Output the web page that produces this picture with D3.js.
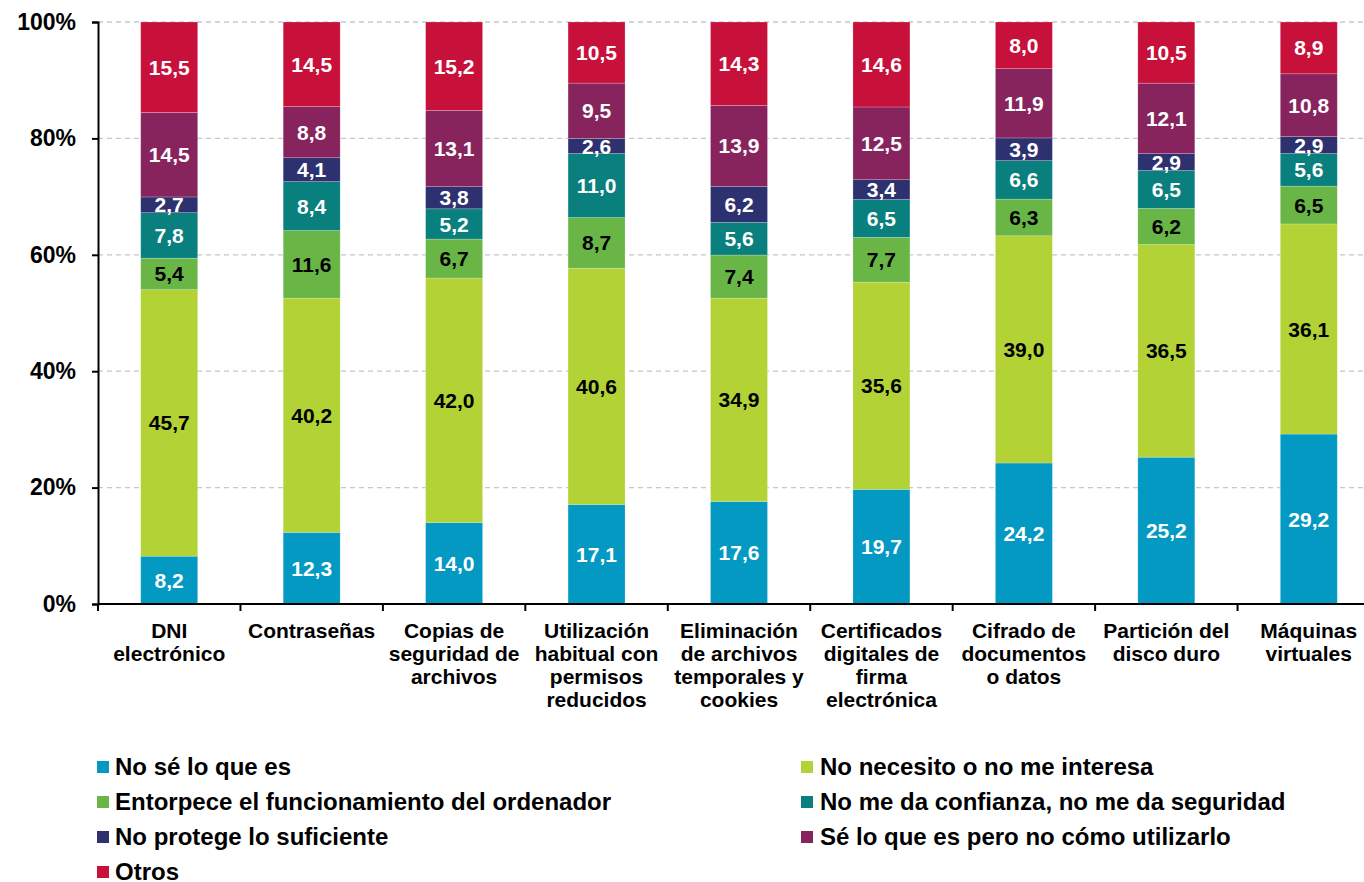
<!DOCTYPE html>
<html>
<head>
<meta charset="utf-8">
<script src="https://cdn.jsdelivr.net/npm/d3@7"></script>
<style>
  body { margin: 0; background: #fff; }
  svg { font-family: "Liberation Sans", Arial, sans-serif; font-weight: bold; }
</style>
</head>
<body>
<svg id="chart" width="1364" height="882"></svg>
<script>
// category labels, already split on lines like the original
const categories = [
	["DNI", "electrónico"],
	["Contraseñas"],
	["Copias de", "seguridad de", "archivos"],
	["Utilización", "habitual con", "permisos", "reducidos"],
	["Eliminación", "de archivos", "temporales y", "cookies"],
	["Certificados", "digitales de", "firma", "electrónica"],
	["Cifrado de", "documentos", "o datos"],
	["Partición del", "disco duro"],
	["Máquinas", "virtuales"]
];

const seriesNames = [
	"No sé lo que es",
	"No necesito o no me interesa",
	"Entorpece el funcionamiento del ordenador",
	"No me da confianza, no me da seguridad",
	"No protege lo suficiente",
	"Sé lo que es pero no cómo utilizarlo",
	"Otros"
];

const noSe       = [8.2, 12.3, 14.0, 17.1, 17.6, 19.7, 24.2, 25.2, 29.2];
const noNecesito = [45.7, 40.2, 42.0, 40.6, 34.9, 35.6, 39.0, 36.5, 36.1];
const entorpece  = [5.4, 11.6, 6.7, 8.7, 7.4, 7.7, 6.3, 6.2, 6.5];
const noConfianza = [7.8, 8.4, 5.2, 11.0, 5.6, 6.5, 6.6, 6.5, 5.6];
const noProtege  = [2.7, 4.1, 3.8, 2.6, 6.2, 3.4, 3.9, 2.9, 2.9];
const seLoQueEs  = [14.5, 8.8, 13.1, 9.5, 13.9, 12.5, 11.9, 12.1, 10.8];
const otros      = [15.5, 14.5, 15.2, 10.5, 14.3, 14.6, 8.0, 10.5, 8.9];

const yTicks = [0, 0.2, 0.4, 0.6, 0.8, 1];

const seriesValues = [noSe, noNecesito, entorpece, noConfianza, noProtege, seLoQueEs, otros];
const colors = ["#0399c3", "#b2d235", "#69b647", "#0a807e", "#2e3170", "#87245e", "#c8113a"];
const labelColors = ["#fff", "#000", "#000", "#fff", "#fff", "#fff", "#fff"];

const svg = d3.select("#chart");
const mLeft = 98, mTop = 22, mBottom = 604, mRight = 1380;

const rows = categories.map((c, i) => {
	const r = { idx: i };
	seriesNames.forEach((s, j) => r[s] = seriesValues[j][i]);
	return r;
});

const stacked = d3.stack()
	.keys(seriesNames)
	.offset(d3.stackOffsetExpand)(rows);

const x = d3.scaleBand()
	.domain(d3.range(categories.length))
	.range([mLeft, mRight])
	.paddingInner(0.6)
	.paddingOuter(0.3);

const y = d3.scaleLinear()
	.domain([0, 1])
	.range([mBottom, mTop]);

// dashed grid
svg.append("g")
	.selectAll("line")
	.data(yTicks.filter(d => d > 0))
	.enter().append("line")
	.attr("x1", mLeft).attr("x2", 1364)
	.attr("y1", d => y(d)).attr("y2", d => y(d))
	.attr("stroke", "#c8c8c8")
	.attr("stroke-width", 1.3)
	.attr("stroke-dasharray", "5,4");

// bars
const layers = svg.append("g")
	.selectAll("g")
	.data(stacked)
	.enter().append("g")
	.attr("fill", (d, i) => colors[i]);

layers.selectAll("rect")
	.data(d => d)
	.enter().append("rect")
	.attr("x", d => x(d.data.idx))
	.attr("width", x.bandwidth())
	.attr("y", d => y(d[1]))
	.attr("height", d => y(d[0]) - y(d[1]))
	.attr("stroke", "rgba(255,255,255,0.35)")
	.attr("stroke-width", 0.6);

// value labels
stacked.forEach((layer, i) => {
	svg.append("g")
		.selectAll("text")
		.data(layer)
		.enter().append("text")
		.attr("x", d => x(d.data.idx) + x.bandwidth() / 2)
		.attr("y", d => (y(d[0]) + y(d[1])) / 2)
		.attr("dy", "0.36em")
		.attr("text-anchor", "middle")
		.attr("fill", labelColors[i])
		.style("font-size", "21px")
		.text(d => d3.format(".1f")(seriesValues[i][d.data.idx]).replace(".", ","));
});

// y axis
const yAxis = d3.axisLeft(y)
	.tickValues(yTicks)
	.tickFormat(d3.format(".0%"))
	.tickSize(6)
	.tickPadding(16);

const yg = svg.append("g")
	.attr("transform", `translate(${mLeft},0)`)
	.call(yAxis);
yg.select(".domain").attr("stroke", "#000").attr("stroke-width", 2);
yg.selectAll(".tick line").attr("stroke", "#000").attr("stroke-width", 2);
yg.selectAll(".tick text")
	.attr("fill", "#000")
	.style("font-size", "23px")
	.style("font-family", "Liberation Sans, Arial, sans-serif")
	.style("font-weight", "bold");

// x axis: baseline and ticks at band boundaries
svg.append("line")
	.attr("x1", mLeft).attr("x2", 1364)
	.attr("y1", mBottom).attr("y2", mBottom)
	.attr("stroke", "#000").attr("stroke-width", 2);

const step = x.step();
svg.append("g")
	.selectAll("line")
	.data(d3.range(categories.length + 1))
	.enter().append("line")
	.attr("x1", i => mLeft + i * step).attr("x2", i => mLeft + i * step)
	.attr("y1", mBottom).attr("y2", mBottom + 7)
	.attr("stroke", "#000").attr("stroke-width", 2);

const catLabels = svg.append("g")
	.selectAll("text")
	.data(categories)
	.enter().append("text")
	.attr("x", (d, i) => x(i) + x.bandwidth() / 2)
	.attr("y", 638)
	.attr("text-anchor", "middle")
	.attr("fill", "#000")
	.style("font-size", "21px");

catLabels.selectAll("tspan")
	.data(d => d)
	.enter().append("tspan")
	.attr("x", function() { return d3.select(this.parentNode).attr("x"); })
	.attr("dy", (d, i) => i === 0 ? 0 : 23)
	.text(d => d);

// legend, two columns
const legend = svg.append("g")
	.selectAll("g")
	.data(seriesNames)
	.enter().append("g")
	.attr("transform", (d, i) => `translate(${i % 2 === 0 ? 97 : 801},${767 + Math.floor(i / 2) * 35})`);

legend.append("rect")
	.attr("x", 0).attr("y", -6)
	.attr("width", 12).attr("height", 12)
	.attr("fill", (d, i) => colors[i]);

legend.append("text")
	.attr("x", (d, i) => i % 2 === 0 ? 18 : 19)
	.attr("dy", "0.34em")
	.attr("fill", "#000")
	.style("font-size", "24px")
	.text(d => d);
</script>
</body>
</html>
